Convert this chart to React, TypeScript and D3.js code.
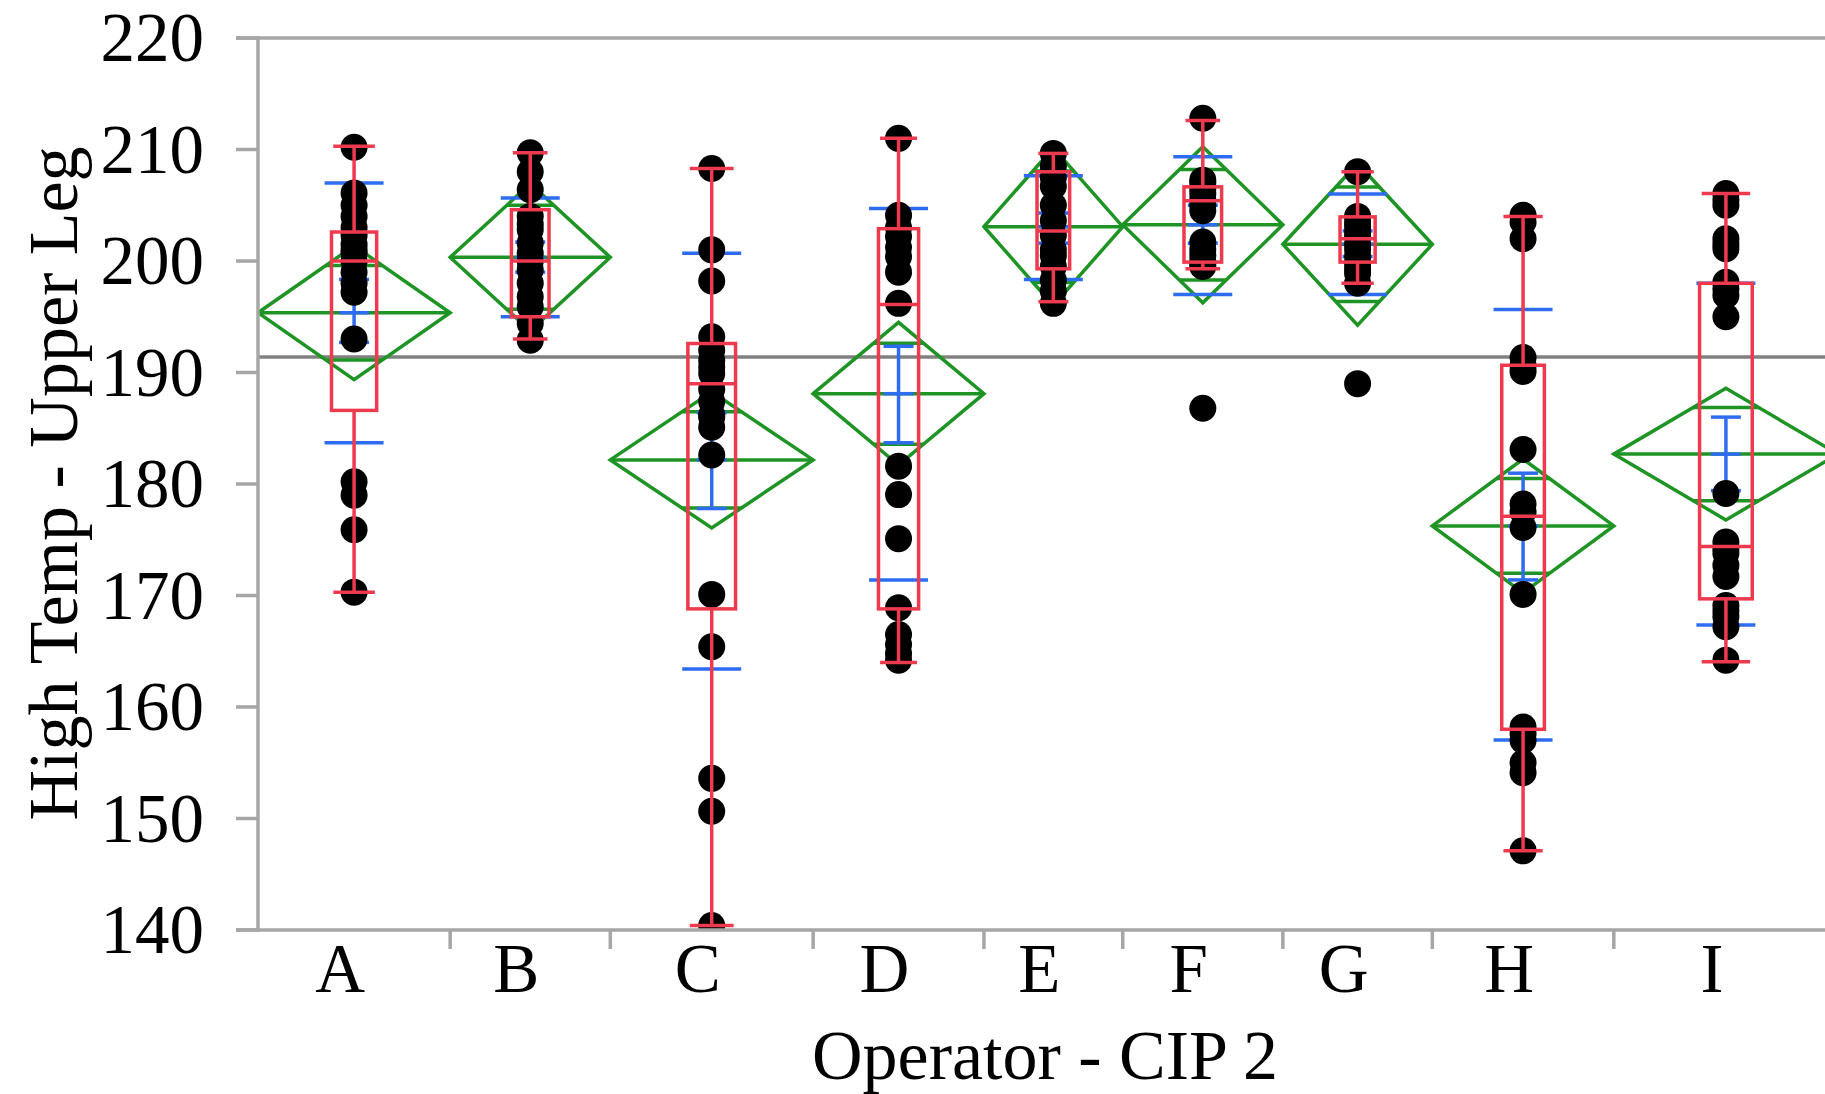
import React from 'react';
import * as d3 from 'd3';

// ---------- data ----------
const categories = ['A', 'B', 'C', 'D', 'E', 'F', 'G', 'H', 'I'];
// group sample sizes (JMP makes each group's width proportional to n)
const groupN = [18, 15, 19, 16, 13, 15, 14, 17, 21];

const valuesA = [210.2, 206.1, 205.0, 204.0, 203.0, 202.3, 201.5, 201.0, 200.7, 200.0, 199.0, 198.0, 197.2, 193.0, 180.2, 179.0, 175.9, 170.3];
const valuesB = [209.7, 208.0, 206.4, 204.0, 203.3, 202.8, 201.6, 200.7, 200.0, 199.2, 198.0, 196.8, 195.9, 194.4, 192.9];
const valuesC = [208.3, 201.0, 198.2, 193.2, 192.0, 191.1, 190.5, 189.9, 188.5, 187.4, 186.2, 186.0, 185.1, 182.6, 170.1, 165.4, 153.6, 150.65, 140.4];
const valuesD = [211.0, 204.1, 203.0, 202.2, 201.2, 200.4, 199.0, 196.2, 181.6, 179.05, 175.1, 168.9, 166.5, 165.6, 164.8, 164.2];
const valuesE = [209.65, 208.5, 207.5, 206.7, 205.0, 203.6, 202.3, 201.0, 200.5, 199.5, 198.3, 197.3, 196.2];
const valuesF = [212.8, 207.25, 207.0, 206.5, 206.06, 205.5, 205.0, 201.7, 201.0, 200.5, 200.0, 199.8, 199.5, 204.5, 186.8];
const valuesG = [208.0, 204.0, 203.5, 203.1, 202.6, 202.2, 201.5, 201.0, 200.4, 199.8, 199.3, 198.9, 198.0, 189.0];
const valuesH = [204.1, 203.5, 202.0, 191.35, 190.6, 190.1, 183.1, 178.2, 177.5, 176.1, 170.1, 158.2, 157.6, 157.0, 155.0, 154.1, 147.1];
const valuesI = [206.06, 205.5, 205.0, 202.0, 201.5, 201.1, 198.1, 197.5, 196.9, 195.0, 179.15, 174.8, 174.2, 173.8, 172.7, 171.7, 169.1, 168.6, 168.1, 167.2, 164.2];
const groupValues = [valuesA, valuesB, valuesC, valuesD, valuesE, valuesF, valuesG, valuesH, valuesI];

// means diamonds (mean and 95% CI half-height)
const means = [195.36, 200.33, 182.16, 188.1, 203.08, 203.25, 201.5, 176.24, 182.68];
const ciHalf = [6.0, 6.6, 6.1, 6.4, 7.07, 7.0, 7.25, 6.0, 5.9];
// mean error bars
const seLow = [192.7, 199.0, 177.8, 183.7, 201.6, 201.6, 200.4, 171.4, 179.4];
const seHigh = [198.35, 201.7, 186.4, 192.35, 204.3, 205.0, 202.7, 180.97, 186.0];
// std dev lines
const sdLow = [183.7, 195.0, 163.4, 171.4, 198.35, 197.0, 197.0, 157.05, 167.35];
const sdHigh = [207.0, 205.65, 200.7, 204.7, 207.65, 209.35, 206.0, 195.66, 198.0];
// box plots
const q1 = [186.6, 195.0, 168.8, 168.8, 199.3, 199.9, 199.9, 158.0, 169.7];
const median = [200.0, 200.0, 189.0, 196.1, 202.7, 205.4, 202.0, 177.1, 174.4];
const q3 = [202.6, 204.6, 192.6, 202.9, 208.0, 206.65, 203.96, 190.65, 198.0];
const whiskerLow = [170.3, 193.0, 140.4, 164.0, 196.35, 199.3, 198.0, 147.1, 164.05];
const whiskerHigh = [210.3, 209.7, 208.3, 211.0, 209.65, 212.6, 208.0, 204.0, 206.06];

const grandMean = 191.4;
const yTicks = [140, 150, 160, 170, 180, 190, 200, 210, 220];
const xTitle = 'Operator - CIP 2';
const yTitle = 'High Temp - Upper Leg';

// ---------- drawing ----------
const W = 1825;
const H = 1094;
const FONT = "'Liberation Serif','Times New Roman',serif";
const RED = '#EE3A4E';
const BLUE = '#2D6CF0';
const GREEN = '#1E9424';
const AXIS = '#A6A6A6';

export default function App() {
  const plotLeft = 258;
  const plotRight = 1838;
  const plotTop = 38;
  const plotBottom = 930;

  const total = d3.sum(groupN);
  const cum = [0, ...Array.from(d3.cumsum(groupN))];
  const x = d3.scaleLinear().domain([0, total]).range([plotLeft, plotRight]);
  const y = d3.scaleLinear().domain([140, 220]).range([plotBottom, plotTop]);

  const groups = categories.map((c, i) => {
    const x0 = x(cum[i]);
    const x1 = x(cum[i + 1]);
    const w = x1 - x0;
    return { c, i, x0, x1, w, xc: (x0 + x1) / 2 };
  });

  const sw = 3.5;

  return (
    <svg width={W} height={H} style={{ position: 'absolute', left: 0, top: 0, background: '#fff' }}>
      <defs>
        <clipPath id="plotClip">
          <rect x={plotLeft} y={plotTop} width={plotRight - plotLeft} height={plotBottom - plotTop} />
        </clipPath>
      </defs>

      <g clipPath="url(#plotClip)">
        {/* grand mean */}
        <line x1={plotLeft} x2={W} y1={y(grandMean)} y2={y(grandMean)} stroke="#808080" strokeWidth={sw} />

        {/* means diamonds */}
        {groups.map(g => {
          const m = means[g.i];
          const h = ciHalf[g.i];
          const d = `M${g.x0},${y(m)}L${g.xc},${y(m + h)}L${g.x1},${y(m)}L${g.xc},${y(m - h)}Z`;
          const ov = h / Math.SQRT2;
          const hw = (g.w / 2) * (1 - 1 / Math.SQRT2);
          return (
            <g key={'d' + g.c} stroke={GREEN} strokeWidth={sw} fill="none">
              <path d={d} strokeLinejoin="miter" />
              <line x1={g.x0} x2={g.x1} y1={y(m)} y2={y(m)} />
              <line x1={g.xc - hw} x2={g.xc + hw} y1={y(m + ov)} y2={y(m + ov)} />
              <line x1={g.xc - hw} x2={g.xc + hw} y1={y(m - ov)} y2={y(m - ov)} />
            </g>
          );
        })}

        {/* std dev lines and mean error bars */}
        {groups.map(g => {
          const m = means[g.i];
          const sdw = 59 / 2;
          const sew = 30 / 2;
          return (
            <g key={'b' + g.c} stroke={BLUE} strokeWidth={sw}>
              <line x1={g.xc - sdw} x2={g.xc + sdw} y1={y(sdHigh[g.i])} y2={y(sdHigh[g.i])} />
              <line x1={g.xc - sdw} x2={g.xc + sdw} y1={y(sdLow[g.i])} y2={y(sdLow[g.i])} />
              <line x1={g.xc} x2={g.xc} y1={y(seHigh[g.i])} y2={y(seLow[g.i])} />
              <line x1={g.xc - sew} x2={g.xc + sew} y1={y(seHigh[g.i])} y2={y(seHigh[g.i])} />
              <line x1={g.xc - sew} x2={g.xc + sew} y1={y(seLow[g.i])} y2={y(seLow[g.i])} />
              <line x1={g.xc - sew} x2={g.xc + sew} y1={y(m)} y2={y(m)} />
            </g>
          );
        })}

        {/* points */}
        {groups.map(g => (
          <g key={'p' + g.c} fill="#000">
            {groupValues[g.i].map((v, k) => (
              <circle key={k} cx={g.xc} cy={y(v)} r={13.5} />
            ))}
          </g>
        ))}

        {/* box plots */}
        {groups.map(g => {
          const bw = g.w * 0.235;
          const cw = bw * 0.92;
          const i = g.i;
          return (
            <g key={'x' + g.c} stroke={RED} strokeWidth={sw} fill="none">
              <rect x={g.xc - bw / 2} y={y(q3[i])} width={bw} height={y(q1[i]) - y(q3[i])} />
              <line x1={g.xc - bw / 2} x2={g.xc + bw / 2} y1={y(median[i])} y2={y(median[i])} />
              <line x1={g.xc} x2={g.xc} y1={y(q3[i])} y2={y(whiskerHigh[i])} />
              <line x1={g.xc} x2={g.xc} y1={y(q1[i])} y2={y(whiskerLow[i])} />
              <line x1={g.xc - cw / 2} x2={g.xc + cw / 2} y1={y(whiskerHigh[i])} y2={y(whiskerHigh[i])} />
              <line x1={g.xc - cw / 2} x2={g.xc + cw / 2} y1={y(whiskerLow[i])} y2={y(whiskerLow[i])} />
            </g>
          );
        })}
      </g>

      {/* axes */}
      <g stroke={AXIS} strokeWidth={sw}>
        <line x1={plotLeft} x2={plotLeft} y1={plotTop - 1.75} y2={plotBottom + 1.75} />
        <line x1={236} x2={W} y1={plotTop} y2={plotTop} />
        <line x1={236} x2={W} y1={plotBottom} y2={plotBottom} />
        {yTicks.map(t => (
          <line key={'yt' + t} x1={236} x2={plotLeft} y1={y(t)} y2={y(t)} />
        ))}
        {groups.slice(1).map(g => (
          <line key={'xt' + g.c} x1={g.x0} x2={g.x0} y1={plotBottom} y2={plotBottom + 19} />
        ))}
      </g>

      <g fontFamily={FONT} fontSize={69} fill="#000">
        {yTicks.map(t => (
          <text key={'yl' + t} x={204} y={y(t) + 23} textAnchor="end">{t}</text>
        ))}
        {groups.map(g => (
          <text key={'xl' + g.c} x={g.xc - 14} y={992} textAnchor="middle">{g.c}</text>
        ))}
      </g>
      <text x={1045} y={1079} textAnchor="middle" fontFamily={FONT} fontSize={70}>{xTitle}</text>
      <text transform="translate(77,483.5) rotate(-90)" textAnchor="middle" fontFamily={FONT} fontSize={70}>{yTitle}</text>
    </svg>
  );
}
